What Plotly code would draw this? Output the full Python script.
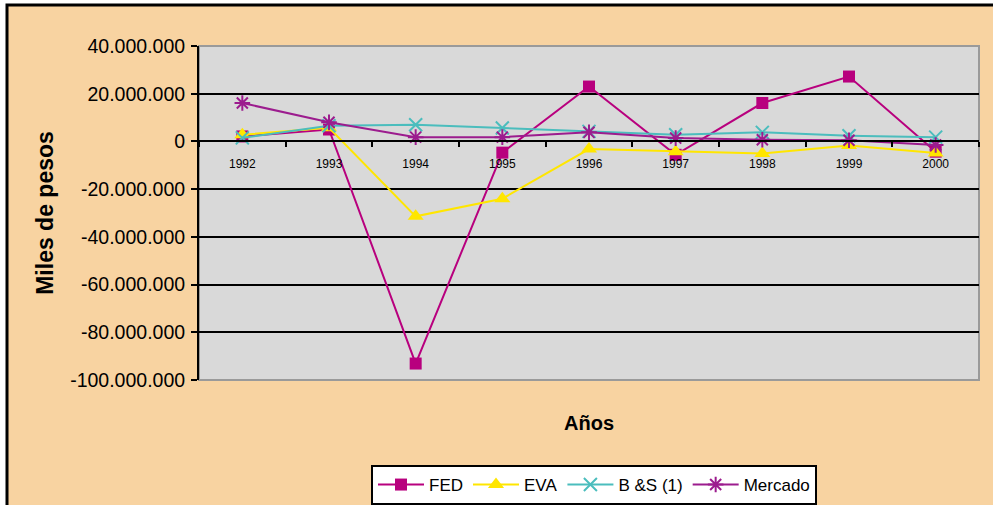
import plotly.graph_objects as go

# Años y valores (miles de pesos)
years = ["1992", "1993", "1994", "1995", "1996", "1997", "1998", "1999", "2000"]
fed = [2100000, 5000000, -93100000, -4700000, 23000000, -5600000, 16100000, 27200000, -4300000]
eva = [2800000, 5700000, -31400000, -24000000, -3200000, -4300000, -5100000, -1700000, -4900000]
bs = [1500000, 6600000, 7000000, 5600000, 4200000, 2800000, 3800000, 2400000, 1800000]
mercado = [16100000, 8000000, 1800000, 1800000, 3800000, 1400000, 700000, 500000, -1500000]

y_ticks = [40000000, 20000000, 0, -20000000, -40000000, -60000000, -80000000, -100000000]
y_tick_text = ["40.000.000", "20.000.000", "0", "-20.000.000", "-40.000.000",
               "-60.000.000", "-80.000.000", "-100.000.000"]

FONT = "Arial, Liberation Sans, sans-serif"
Y_MIN, Y_MAX = -100000000, 40000000

L, T, W, H = 199, 46, 780, 334  # plot area in pixels

fig = go.Figure()

fig.add_trace(go.Scatter(
    x=years, y=fed, name="FED", mode="lines+markers",
    line=dict(color="#B8007E", width=2),
    marker=dict(symbol="square", size=12, color="#B8007E"),
))
fig.add_trace(go.Scatter(
    x=years, y=eva, name="EVA", mode="lines+markers",
    line=dict(color="#FFE600", width=2),
    marker=dict(symbol="triangle-up", size=14, color="#FFE600"),
))
fig.add_trace(go.Scatter(
    x=years, y=bs, name="B &S (1)", mode="lines+markers",
    line=dict(color="#4BBDBD", width=2),
    marker=dict(symbol="x-thin-open", size=13, color="#4BBDBD",
                line=dict(color="#4BBDBD", width=2)),
))
fig.add_trace(go.Scatter(
    x=years, y=mercado, name="Mercado", mode="lines+markers",
    line=dict(color="#9C1C8E", width=2),
    marker=dict(symbol="asterisk-open", size=13, color="#9C1C8E",
                line=dict(color="#9C1C8E", width=2)),
))

zero_pos = (0 - Y_MIN) / (Y_MAX - Y_MIN)


def px_x(p):
    return (p - L) / W


def px_y(p):
    return 1 - (p - T) / H


fig.update_layout(
    width=993, height=505,
    margin=dict(l=L, r=993 - L - W, t=T, b=505 - T - H, autoexpand=False),
    paper_bgcolor="white",
    plot_bgcolor="#D9D9D9",
    font=dict(family=FONT, color="black"),
    showlegend=True,
    legend=dict(
        orientation="h", x=px_x(594), xanchor="center", y=px_y(465), yanchor="top",
        bgcolor="white", bordercolor="black", borderwidth=2,
        font=dict(size=17, family=FONT), itemwidth=46, tracegroupgap=0,
    ),
    xaxis=dict(
        type="category", range=[-0.5, 8.5],
        anchor="free", position=zero_pos,
        showline=True, linecolor="black", linewidth=2,
        ticks="outside", tickson="boundaries", ticklen=5, tickcolor="black", tickwidth=2,
        ticklabelstandoff=11,
        tickfont=dict(size=12, family=FONT),
        showgrid=False, zeroline=False,
    ),
    yaxis=dict(
        range=[Y_MIN, Y_MAX],
        tickvals=y_ticks, ticktext=y_tick_text,
        tickfont=dict(size=19.5, family=FONT),
        ticks="outside", ticklen=6, tickcolor="black", tickwidth=2,
        ticklabelstandoff=2,
        showline=True, linecolor="black", linewidth=2,
        showgrid=True, gridcolor="black", gridwidth=2,
        zeroline=False,
        title=dict(text="<b>Miles de pesos</b>", font=dict(size=23, family=FONT), standoff=10),
    ),
)

# Fondo del gráfico con su marco negro
fig.add_shape(type="rect", xref="paper", yref="paper",
              x0=px_x(7), x1=px_x(1010), y0=px_y(520), y1=px_y(5),
              fillcolor="#F8D3A1", line=dict(color="black", width=3), layer="below")
# Área de trazado gris con su borde
fig.add_shape(type="rect", xref="x domain", yref="y domain", x0=0, x1=1, y0=0, y1=1,
              fillcolor="#D9D9D9", line=dict(color="#9A9A9A", width=2), layer="below")

fig.add_annotation(text="<b>Años</b>", xref="paper", yref="paper",
                   x=0.5, y=px_y(423), showarrow=False,
                   font=dict(size=20, family=FONT), xanchor="center", yanchor="middle")

fig.write_html("out.html")
